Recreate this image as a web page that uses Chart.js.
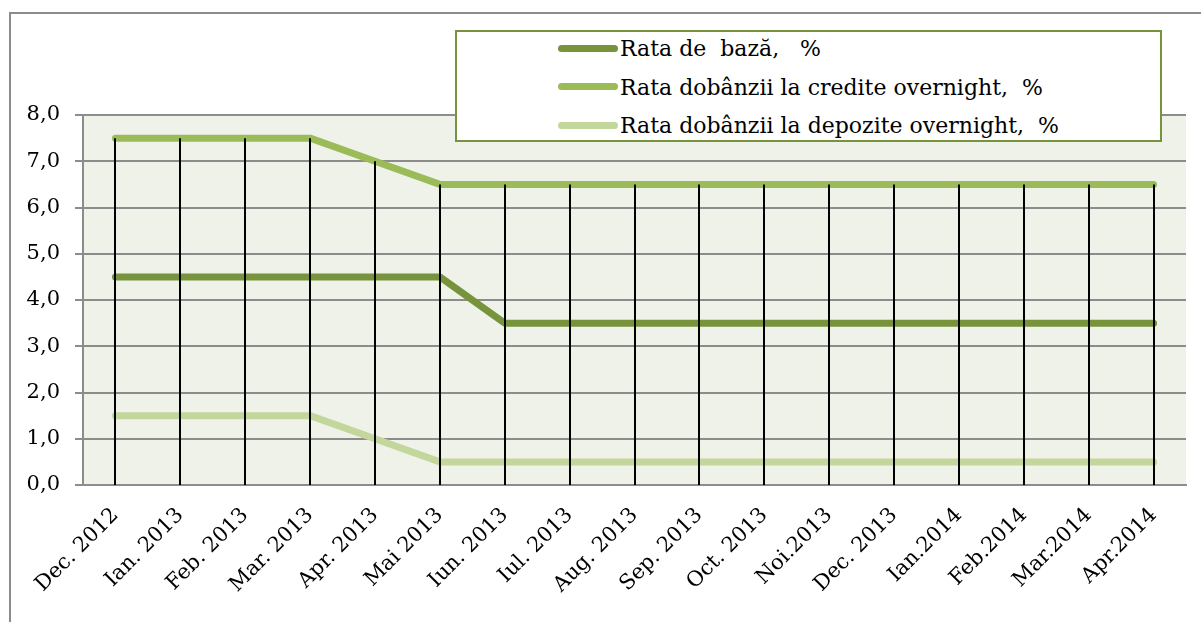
<!DOCTYPE html>
<html>
<head>
<meta charset="utf-8">
<script src="https://cdn.jsdelivr.net/npm/chart.js@4.4.1/dist/chart.umd.min.js"></script>
<style>
  html, body { margin: 0; padding: 0; background: #fff; }
  #wrap { position: relative; width: 1201px; height: 622px; overflow: hidden; }
  #frame { position: absolute; left: 9px; top: 12px; width: 1300px; height: 700px; border: 2px solid #8c8c8c; box-sizing: border-box; }
  #legend {
    position: absolute; left: 455px; top: 30px; width: 707px; height: 112px;
    background: #fff; border: 2px solid #77933c; box-sizing: border-box;
    font-family: "DejaVu Serif", serif; font-size: 22px; color: #000;
  }
  #legend .item { position: absolute; left: 101px; height: 30px; line-height: 30px; white-space: pre; }
  #legend .swatch { display: inline-block; width: 60px; height: 7px; border-radius: 4px; vertical-align: middle; margin-right: 2px; position: relative; top: -2px; }
  canvas { position: absolute; left: 0; top: 0; }
</style>
</head>
<body>
<div id="wrap">
  <div id="frame"></div>
  <canvas id="chart" width="1201" height="622"></canvas>
  <div id="legend"></div>
</div>
<script>
// categorii (luni)
let luni = ['Dec. 2012', 'Ian. 2013', 'Feb. 2013', 'Mar. 2013', 'Apr. 2013', 'Mai 2013', 'Iun. 2013',
	'Iul. 2013', 'Aug. 2013', 'Sep. 2013', 'Oct. 2013', 'Noi.2013', 'Dec. 2013', 'Ian.2014',
	'Feb.2014', 'Mar.2014', 'Apr.2014']

// serii
let rataBaza = [4.5, 4.5, 4.5, 4.5, 4.5, 4.5, 3.5, 3.5, 3.5, 3.5, 3.5, 3.5, 3.5, 3.5, 3.5, 3.5, 3.5]
let rataCredite = [7.5, 7.5, 7.5, 7.5, 7.0, 6.5, 6.5, 6.5, 6.5, 6.5, 6.5, 6.5, 6.5, 6.5, 6.5, 6.5, 6.5]
let rataDepozite = [1.5, 1.5, 1.5, 1.5, 1.0, 0.5, 0.5, 0.5, 0.5, 0.5, 0.5, 0.5, 0.5, 0.5, 0.5, 0.5, 0.5]

let numeSerii = ['Rata de  bază,   %', 'Rata dobânzii la credite overnight,  %', 'Rata dobânzii la depozite overnight,  %']
let culori = ['#77933c', '#9bbb59', '#c3d69b']

let yTicks = [0, 1, 2, 3, 4, 5, 6, 7, 8]

const fontTick = { family: '"DejaVu Serif", serif', size: 21 }

// fundal zona grafic
const plotBg = {
	id: 'plotBg',
	beforeDraw(chart) {
		const { ctx, chartArea: a } = chart
		ctx.save()
		ctx.fillStyle = '#eff2e9'
		ctx.fillRect(a.left, a.top, a.right - a.left, a.bottom - a.top)
		ctx.restore()
	}
}

// linii verticale (drop lines) de la valoarea maxima pana la axa
const dropLines = {
	id: 'dropLines',
	afterDatasetsDraw(chart) {
		const { ctx, scales } = chart
		const y0 = scales.y.getPixelForValue(0)
		ctx.save()
		ctx.strokeStyle = '#000'
		ctx.lineWidth = 2
		luni.forEach((l, i) => {
			let top = Math.max(rataBaza[i], rataCredite[i], rataDepozite[i])
			let x = Math.round(scales.x.getPixelForValue(i))
			ctx.beginPath()
			ctx.moveTo(x, scales.y.getPixelForValue(top))
			ctx.lineTo(x, y0)
			ctx.stroke()
		})
		ctx.restore()
	}
}

let mkSet = (label, data, color) => ({
	label, data,
	borderColor: color,
	backgroundColor: color,
	borderWidth: 7,
	borderCapStyle: 'round',
	borderJoinStyle: 'round',
	pointRadius: 0,
	tension: 0,
})

new Chart(document.getElementById('chart'), {
	type: 'line',
	data: {
		labels: luni,
		datasets: [
			mkSet(numeSerii[0], rataBaza, culori[0]),
			mkSet(numeSerii[1], rataCredite, culori[1]),
			mkSet(numeSerii[2], rataDepozite, culori[2]),
		]
	},
	options: {
		responsive: false,
		animation: false,
		layout: { padding: { top: 115, right: 15, left: 0, bottom: 0 } },
		plugins: { legend: { display: false }, tooltip: { enabled: false } },
		scales: {
			x: {
				offset: true,
				grid: { display: false, drawTicks: false },
				border: { color: '#8c8c8c', width: 2 },
				ticks: {
					color: '#000', font: fontTick, minRotation: 45, maxRotation: 45, padding: 18,
					autoSkip: false,
				},
				afterFit(s) { s.height = 137 },
			},
			y: {
				min: 0, max: 8,
				afterBuildTicks(s) { s.ticks = yTicks.map(v => ({ value: v })) },
				grid: { color: '#8c8c8c', lineWidth: 2, tickLength: 8 },
				border: { color: '#8c8c8c', width: 2 },
				ticks: {
					color: '#000', font: fontTick, padding: 15,
					callback: v => v.toFixed(1).replace('.', ','),
				},
				afterFit(s) { s.width = 83 },
			}
		}
	},
	plugins: [plotBg, dropLines]
})

// legenda
let leg = document.getElementById('legend')
numeSerii.forEach((n, i) => {
	let d = document.createElement('div')
	d.className = 'item'
	d.style.top = (2 + i * 38.5) + 'px'
	d.innerHTML = `<span class="swatch" style="background:${culori[i]}"></span>` + n
	leg.appendChild(d)
})
</script>
</body>
</html>
